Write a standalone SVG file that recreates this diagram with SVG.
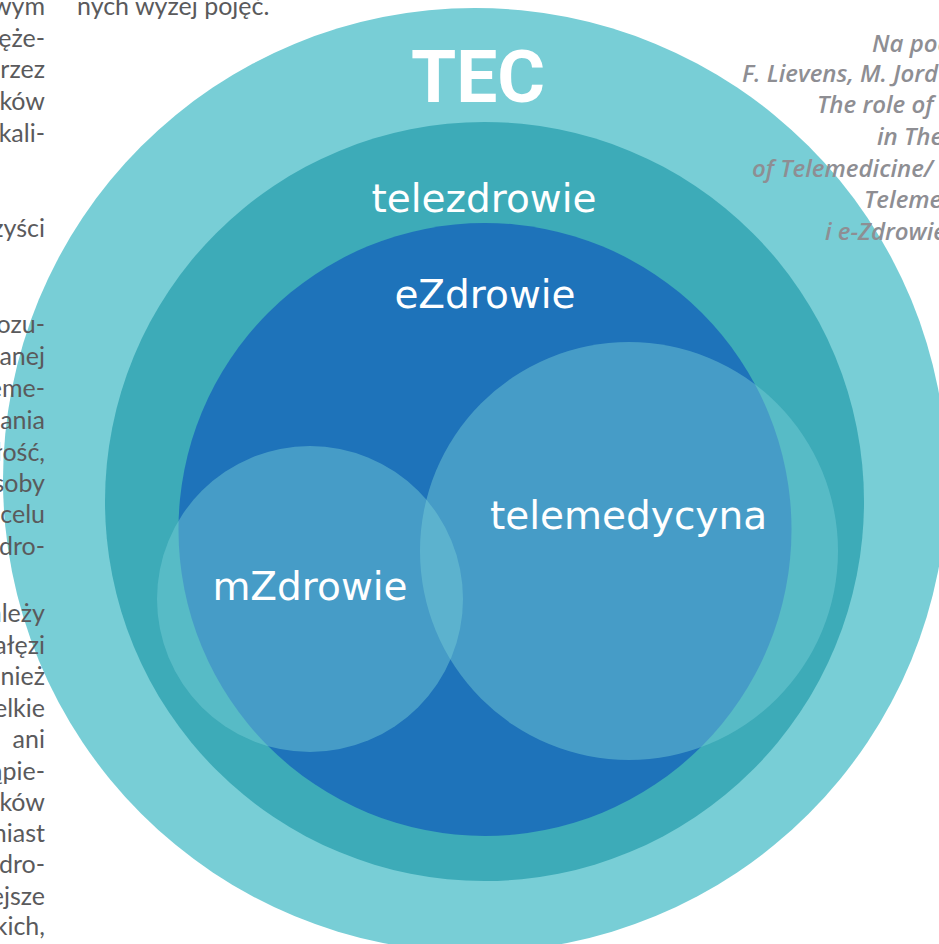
<svg xmlns="http://www.w3.org/2000/svg" width="939" height="944" viewBox="0 0 939 944">
  <style>
    .body { font-family: "Lato", "Liberation Sans", sans-serif; font-size: 25px; fill: #5a5a5c; }
    .note { font-family: "Open Sans", "Liberation Sans", sans-serif; font-size: 24px; font-style: italic; font-weight: 600; fill: #8e8e93; }
    .label { font-family: "DejaVu Sans", "Liberation Sans", sans-serif; font-size: 39px; fill: #ffffff; text-anchor: middle; }
    .title { font-family: Roboto, "Liberation Sans", sans-serif; font-size: 73px; font-weight: 700; fill: #ffffff; text-anchor: middle; }
    .overlay { fill: #78ced6; fill-opacity: 0.45; }
  </style>

  <rect width="939" height="944" fill="#ffffff"/>

  <!-- nested scopes -->
  <g id="tec">
    <circle cx="475" cy="480" r="472" fill="#78ced6"/>
    <text class="title" x="478" y="102">TEC</text>
  </g>
  <g id="telezdrowie">
    <circle cx="484.5" cy="501.5" r="379.5" fill="#3dabb8"/>
    <text class="label" x="484" y="212" font-size="40.5">telezdrowie</text>
  </g>
  <g id="ezdrowie">
    <circle cx="485" cy="529.5" r="306.5" fill="#1e73ba"/>
    <text class="label" x="485" y="308">eZdrowie</text>
  </g>

  <!-- overlapping sub-areas -->
  <g id="telemedycyna">
    <circle class="overlay" cx="629" cy="551" r="209"/>
    <text class="label" x="628.5" y="529">telemedycyna</text>
  </g>
  <g id="mzdrowie">
    <circle class="overlay" cx="310" cy="599" r="153"/>
    <text class="label" x="310" y="600">mZdrowie</text>
  </g>

  <!-- surrounding page text, left column -->
  <g id="body-left" class="body" text-anchor="end">
    <text x="45" y="15">wym</text>
    <text x="45" y="47">ęże-</text>
    <text x="45" y="78">rzez</text>
    <text x="45" y="110">ików</text>
    <text x="45" y="142">kali-</text>
    <text x="45" y="237">zyści</text>
    <text x="45" y="333">ozu-</text>
    <text x="45" y="365">anej</text>
    <text x="45" y="397">eme-</text>
    <text x="45" y="429">ania</text>
    <text x="45" y="461">łość,</text>
    <text x="45" y="492">soby</text>
    <text x="45" y="523">celu</text>
    <text x="45" y="555">dro-</text>
    <text x="45" y="622">ależy</text>
    <text x="45" y="654">ałęzi</text>
    <text x="45" y="685">nież</text>
    <text x="45" y="717">elkie</text>
    <text x="45" y="748">ani</text>
    <text x="45" y="780">ąpie-</text>
    <text x="45" y="811">ików</text>
    <text x="45" y="842">niast</text>
    <text x="45" y="873">dro-</text>
    <text x="45" y="905">ejsze</text>
    <text x="45" y="935">kich,</text>
  </g>
  <text class="body" x="77" y="15">nych wyżej pojęć.</text>

  <!-- source note, right column -->
  <g id="source-note" class="note">
    <text x="872" y="52">Na pod</text>
    <text x="742" y="82">F. Lievens, M. Jord</text>
    <text x="817" y="113">The role of</text>
    <text x="877" y="145">in The</text>
    <text x="752" y="177">of Telemedicine/</text>
    <text x="864" y="208">Teleme</text>
    <text x="825" y="240">i e-Zdrowie</text>
  </g>
</svg>
